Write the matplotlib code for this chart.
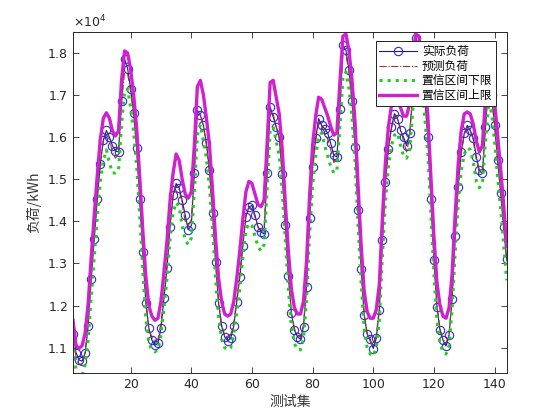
import matplotlib
matplotlib.use("Agg")
import matplotlib.pyplot as plt
from matplotlib.ticker import ScalarFormatter, FixedLocator
import numpy as np

plt.rcParams['font.family'] = ['DejaVu Sans']

x_vals = list(range(1, 145))

actual = [
    11330, 10880, 10710, 10680, 10870, 11520, 12620, 13570, 14520, 15370, 15930, 16160,
    16000, 15800, 15670, 15650, 16860, 17860, 17630, 17150, 16580, 15740, 14520, 13280,
    12070, 11470, 11180, 11060, 11100, 11470, 12170, 12900, 13870, 14620, 14900, 14800,
    14500, 14150, 13800, 13900, 15140, 16640, 16520, 16280, 15850, 15210, 14200, 13030,
    12050, 11510, 11260, 11170, 11220, 11510, 12090, 12670, 13410, 14110, 14340, 14380,
    14150, 13870, 13750, 13700, 15150, 16720, 16480, 16250, 16000, 15120, 13910, 12700,
    11820, 11420, 11260, 11200, 11500, 12450, 14070, 15290, 15970, 16440, 16280, 16200,
    16090, 15850, 15570, 15530, 16680, 18180, 18060, 17590, 16860, 15770, 14270, 12880,
    11780, 11320, 11200, 10980, 11220, 11890, 13550, 14940, 15730, 16240, 16560, 16440,
    16160, 16000, 15800, 16100, 17000, 18350, 18200, 17600, 16900, 16000, 14540, 13080,
    11970, 11420, 11180, 11040, 11300, 12150, 13650, 14820, 15650, 16090, 16280, 16160,
    15970, 15530, 15210, 15140, 16240, 17300, 17000, 16300, 15450, 14680, 13860, 13100,
]

predicted = [
    11500, 10750, 10600, 10620, 10900, 11600, 12700, 13650, 14600, 15400, 15900, 16050,
    15950, 15650, 15500, 15600, 16800, 17550, 17500, 17100, 16500, 15700, 14550, 13300,
    12150, 11450, 11250, 11150, 11200, 11600, 12300, 13000, 13950, 14600, 14850, 14750,
    14400, 14000, 13900, 14050, 15200, 16500, 16550, 16250, 15800, 15150, 14150, 13050,
    12100, 11550, 11300, 11250, 11300, 11600, 12150, 12750, 13500, 14150, 14350, 14300,
    14100, 13850, 13800, 13850, 15200, 16600, 16550, 16250, 15950, 15100, 13900, 12750,
    11850, 11450, 11300, 11250, 11550, 12500, 14000, 15200, 15900, 16350, 16250, 16100,
    15950, 15700, 15400, 15450, 16700, 17950, 17950, 17550, 16850, 15800, 14300, 12900,
    11800, 11350, 11150, 11050, 11300, 11950, 13500, 14850, 15700, 16200, 16500, 16450,
    16200, 15900, 15650, 16000, 17100, 18150, 18100, 17550, 16850, 16000, 14600, 13100,
    12000, 11450, 11200, 11100, 11350, 12200, 13600, 14800, 15600, 16050, 16250, 16150,
    15900, 15450, 15150, 15200, 16300, 17200, 16950, 16300, 15500, 14700, 13850, 13050,
]

lower = [
    11150, 10450, 10300, 10350, 10600, 11200, 12200, 13150, 14100, 14950, 15450, 15700,
    15400, 15150, 15150, 15200, 16300, 17100, 17150, 16700, 16100, 15300, 14100, 12850,
    11700, 11100, 10950, 10900, 10950, 11300, 11950, 12650, 13600, 14200, 14450, 14350,
    13900, 13550, 13450, 13600, 14700, 16050, 16300, 15900, 15500, 14800, 13800, 12650,
    11700, 11200, 11000, 10950, 11000, 11300, 11850, 12400, 13150, 13800, 13950, 13900,
    13650, 13400, 13300, 13450, 14750, 16150, 16250, 15900, 15550, 14700, 13550, 12400,
    11500, 11100, 10950, 10950, 11200, 12150, 13650, 14850, 15550, 16000, 16100, 15800,
    15550, 15300, 15150, 15200, 16250, 17400, 17550, 17150, 16450, 15400, 13900, 12550,
    11450, 11000, 10850, 10800, 11000, 11650, 13150, 14450, 15300, 15800, 16050, 16100,
    15800, 15550, 15500, 15700, 16600, 17500, 17650, 17150, 16450, 15600, 14200, 12750,
    11650, 11100, 10900, 10850, 11050, 11900, 13250, 14400, 15200, 15600, 15750, 15700,
    15400, 14950, 14800, 14900, 15900, 16750, 16600, 15900, 15050, 14300, 13450, 12600,
]

upper = [
    11650, 11050, 10980, 11050, 11350, 12050, 13150, 14150, 15100, 15950, 16450, 16580,
    16450, 16150, 16030, 16150, 17350, 18050, 18000, 17600, 17000, 16200, 15050, 13800,
    12700, 12000, 11750, 11650, 11700, 12100, 12800, 13550, 14500, 15150, 15600, 15450,
    15000, 14650, 14550, 14700, 15800, 17200, 17350, 17000, 16450, 15800, 14750, 13600,
    12650, 12100, 11800, 11750, 11800, 12100, 12650, 13300, 14050, 14700, 14950, 14900,
    14650, 14400, 14350, 14500, 15850, 17300, 17350, 16950, 16550, 15700, 14450, 13300,
    12400, 11950, 11800, 11800, 12100, 13050, 14600, 15800, 16500, 16950, 16900, 16700,
    16500, 16250, 16050, 16100, 17300, 18400, 18450, 18050, 17350, 16350, 14850, 13450,
    12350, 11850, 11700, 11700, 11900, 12500, 14050, 15400, 16250, 16750, 16950, 16900,
    16700, 16500, 16500, 16800, 17800, 18450, 18400, 18000, 17350, 16500, 15100, 13650,
    12550, 12000, 11750, 11700, 11950, 12750, 14150, 15350, 16150, 16550, 16600, 16550,
    16300, 15900, 15650, 15800, 16900, 17700, 17500, 16850, 16050, 15250, 14400, 13400,
]

legend_labels = ['实际负荷', '预测负荷', '置信区间下限', '置信区间上限']
x_ticks = [20, 40, 60, 80, 100, 120, 140]
y_ticks = [11000, 12000, 13000, 14000, 15000, 16000, 17000, 18000]

fig = plt.figure(figsize=(5.6, 4.2), dpi=100)
ax = fig.add_axes([0.1304, 0.112, 0.7744, 0.812])

ax.plot(x_vals, actual, '-', color='#1a1a80', lw=0.8, marker='o', markersize=6,
        markerfacecolor='none', markeredgecolor='#2a2ad0', markeredgewidth=0.8,
        label=legend_labels[0])
ax.plot(x_vals, predicted, '-.', color='#a0302a', lw=0.8, label=legend_labels[1])
ax.plot(x_vals, lower, ':', color='#22cc22', lw=2.2, label=legend_labels[2])
ax.plot(x_vals, upper, '-', color='#d020d0', lw=2.4, label=legend_labels[3])

ax.set_xlim(1, 144)
ax.set_ylim(10400, 18500)
ax.xaxis.set_major_locator(FixedLocator(x_ticks))
ax.yaxis.set_major_locator(FixedLocator(y_ticks))
fmt = ScalarFormatter(useMathText=True)
fmt.set_powerlimits((0, 0))
ax.yaxis.set_major_formatter(fmt)
ax.yaxis.get_offset_text().set_fontsize(9)
ax.yaxis.get_offset_text().set_color('#262626')

ax.tick_params(direction='in', top=True, right=True, length=4, width=0.6,
               labelsize=9, colors='#262626')
for s in ax.spines.values():
    s.set_linewidth(0.7)
    s.set_color('#262626')

cjk = ['Noto Sans CJK SC', 'DejaVu Sans']
ax.set_ylabel('负荷/kWh', family=cjk, fontsize=10, color='#333333', labelpad=4)
ax.set_xlabel('测试集', family=cjk, fontsize=10, color='#333333', labelpad=3)

leg = ax.legend(loc='upper right', bbox_to_anchor=(0.975, 0.972), prop={'family': cjk, 'size': 8.5},
                frameon=True, fancybox=False, edgecolor='#222222', framealpha=1,
                borderpad=0.3, labelspacing=0.15, handlelength=3.2, handletextpad=0.4,
                borderaxespad=0.0)
leg.get_frame().set_linewidth(0.7)

fig.savefig('out.png', dpi=100)
